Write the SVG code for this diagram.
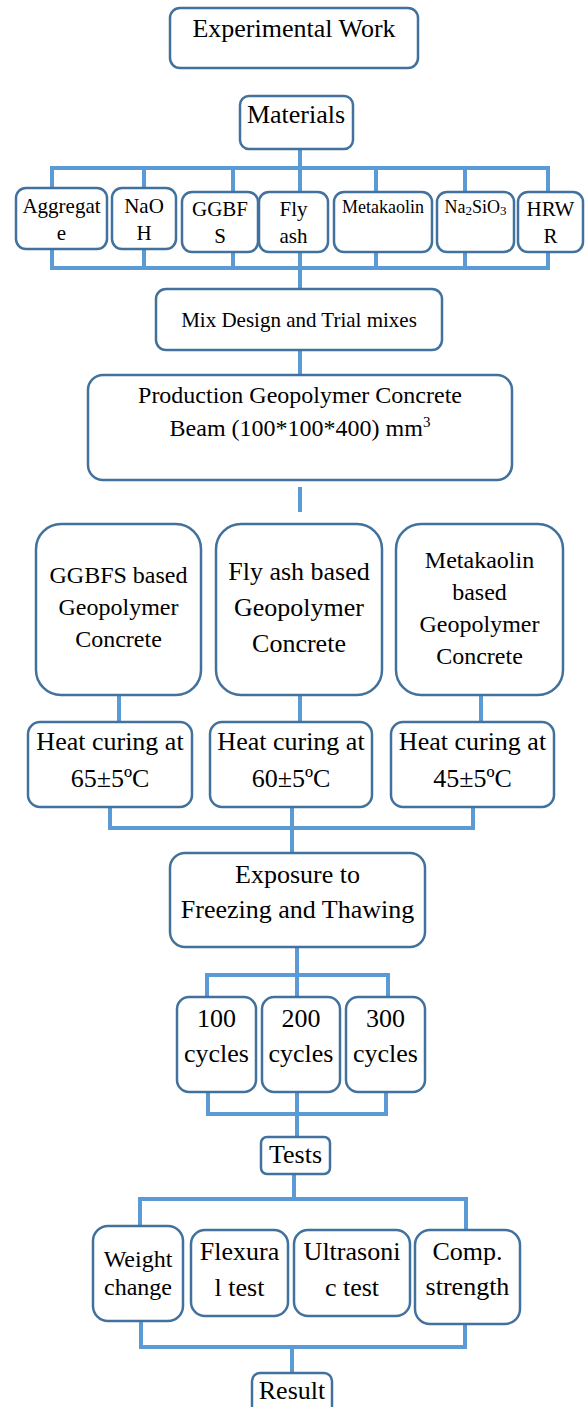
<svg xmlns="http://www.w3.org/2000/svg" width="585" height="1407" viewBox="0 0 585 1407">
<style>
.box{fill:#ffffff;stroke:#41719C;stroke-width:2.5}
.c{fill:none;stroke:#5B9BD5;stroke-width:4;stroke-linecap:butt;stroke-linejoin:miter}
text{font-family:'Liberation Serif','Tinos','Times New Roman','Nimbus Roman','DejaVu Serif',serif;fill:#000000;text-anchor:middle}
.f26{font-size:26px}
.f24{font-size:24px}
.f21{font-size:21px}
.f18{font-size:18px}
</style>
<rect width="585" height="1407" fill="#ffffff"/>
<g id="connectors">
<path class="c" d="M300,149 V168 M52,168 H548 M52,166 V188 M144,168 V188 M233,168 V192 M300,168 V192 M376,168 V192 M465,168 V192 M548,166 V192"/>
<path class="c" d="M52,249 V270 M144,249 V268 M233,252 V268 M300,252 V268 M376,252 V268 M465,252 V268 M548,252 V270 M52,268 H548 M300,268 V289"/>
<path class="c" d="M300,350 V375"/>
<path class="c" d="M300,487 V512"/>
<path class="c" d="M119,695 V722 M300,695 V722 M481,695 V722"/>
<path class="c" d="M110,807 V828 H473 V807 M292,807 V853"/>
<path class="c" d="M297,947 V997 M207,997 V975 H388 V997"/>
<path class="c" d="M208,1092 V1114 H386 V1092 M297,1092 V1137"/>
<path class="c" d="M294,1174 V1199 M140,1226 V1199 H466 V1230"/>
<path class="c" d="M141,1321 V1347 H465 V1324 M292,1347 V1373"/>
</g>
<g font-family="Liberation Serif, Tinos, Times New Roman, Nimbus Roman, DejaVu Serif, serif">
<g id="experimental-work"><rect class="box" x="170" y="8" width="248" height="60" rx="10"/><text class="f26" x="294" y="37">Experimental Work</text></g>
<g id="materials"><rect class="box" x="240" y="96" width="113" height="53" rx="9"/><text class="f26" x="296" y="123">Materials</text></g>
<g id="aggregate"><rect class="box" x="16" y="188" width="91" height="61" rx="10"/><text class="f21" x="61.5" y="213">Aggregat</text><text class="f21" x="61.5" y="240">e</text></g>
<g id="naoh"><rect class="box" x="112" y="188" width="64" height="61" rx="10"/><text class="f21" x="144" y="213">NaO</text><text class="f21" x="144" y="240">H</text></g>
<g id="ggbfs"><rect class="box" x="182" y="192" width="76" height="60" rx="10"/><text class="f21" x="220" y="216">GGBF</text><text class="f21" x="220" y="243">S</text></g>
<g id="fly-ash"><rect class="box" x="259" y="192" width="69" height="60" rx="10"/><text class="f21" x="293.5" y="216">Fly</text><text class="f21" x="293.5" y="243">ash</text></g>
<g id="metakaolin"><rect class="box" x="334" y="192" width="98" height="60" rx="10"/><text class="f18" x="383" y="213">Metakaolin</text></g>
<g id="na2sio3"><rect class="box" x="437" y="192" width="77" height="60" rx="10"/><text class="f18" x="475.5" y="213">Na<tspan font-size="13" dy="2">2</tspan><tspan dy="-2">SiO</tspan><tspan font-size="13" dy="2">3</tspan></text></g>
<g id="hrwr"><rect class="box" x="518" y="192" width="65" height="60" rx="10"/><text class="f21" x="550.5" y="216">HRW</text><text class="f21" x="550.5" y="243">R</text></g>
<g id="mix-design"><rect class="box" x="156" y="289" width="286" height="61" rx="10"/><text class="f21" x="299" y="327">Mix Design and Trial mixes</text></g>
<g id="production"><rect class="box" x="88" y="375" width="424" height="105" rx="15"/><text class="f24" x="300" y="403">Production Geopolymer Concrete</text><text class="f24" x="300" y="436">Beam (100*100*400) mm<tspan font-size="15" dy="-9">3</tspan></text></g>
<g id="ggbfs-based"><rect class="box" x="36" y="524" width="165" height="171" rx="25"/><text class="f24" x="118.5" y="583">GGBFS based</text><text class="f24" x="118.5" y="615">Geopolymer</text><text class="f24" x="118.5" y="647">Concrete</text></g>
<g id="fly-ash-based"><rect class="box" x="216" y="524" width="166" height="171" rx="25"/><text class="f26" x="299" y="580">Fly ash based</text><text class="f26" x="299" y="616">Geopolymer</text><text class="f26" x="299" y="652">Concrete</text></g>
<g id="metakaolin-based"><rect class="box" x="396" y="524" width="167" height="171" rx="25"/><text class="f24" x="479.5" y="568">Metakaolin</text><text class="f24" x="479.5" y="600">based</text><text class="f24" x="479.5" y="632">Geopolymer</text><text class="f24" x="479.5" y="664">Concrete</text></g>
<g id="heat-65"><rect class="box" x="28" y="722" width="164" height="85" rx="12"/><text class="f26" x="110" y="750">Heat curing at</text><text class="f26" x="110" y="787">65±5ºC</text></g>
<g id="heat-60"><rect class="box" x="210" y="722" width="162" height="85" rx="12"/><text class="f26" x="291" y="750">Heat curing at</text><text class="f26" x="291" y="787">60±5ºC</text></g>
<g id="heat-45"><rect class="box" x="391" y="722" width="163" height="85" rx="12"/><text class="f26" x="472.5" y="750">Heat curing at</text><text class="f26" x="472.5" y="787">45±5ºC</text></g>
<g id="exposure"><rect class="box" x="170" y="853" width="255" height="94" rx="15"/><text class="f26" x="297.5" y="883">Exposure to</text><text class="f26" x="297.5" y="918">Freezing and Thawing</text></g>
<g id="cycles-100"><rect class="box" x="177" y="997" width="79" height="95" rx="12"/><text class="f26" x="216.5" y="1027">100</text><text class="f26" x="216.5" y="1062">cycles</text></g>
<g id="cycles-200"><rect class="box" x="262" y="997" width="78" height="95" rx="12"/><text class="f26" x="301" y="1027">200</text><text class="f26" x="301" y="1062">cycles</text></g>
<g id="cycles-300"><rect class="box" x="346" y="997" width="79" height="95" rx="12"/><text class="f26" x="385.5" y="1027">300</text><text class="f26" x="385.5" y="1062">cycles</text></g>
<g id="tests"><rect class="box" x="261" y="1137" width="69" height="37" rx="6"/><text class="f26" x="295.5" y="1163">Tests</text></g>
<g id="weight-change"><rect class="box" x="93" y="1226" width="90" height="95" rx="15"/><text class="f24" x="138" y="1267">Weight</text><text class="f24" x="138" y="1295">change</text></g>
<g id="flexural"><rect class="box" x="191" y="1230" width="97" height="86" rx="14"/><text class="f26" x="239.5" y="1260">Flexura</text><text class="f26" x="239.5" y="1296">l test</text></g>
<g id="ultrasonic"><rect class="box" x="294" y="1230" width="116" height="86" rx="14"/><text class="f26" x="352" y="1260">Ultrasoni</text><text class="f26" x="352" y="1296">c test</text></g>
<g id="comp-strength"><rect class="box" x="415" y="1230" width="105" height="94" rx="15"/><text class="f26" x="467.5" y="1260">Comp.</text><text class="f26" x="467.5" y="1295">strength</text></g>
<g id="result"><rect class="box" x="252" y="1373" width="80" height="45" rx="8"/><text class="f26" x="292" y="1399">Result</text></g>
</g>
</svg>
